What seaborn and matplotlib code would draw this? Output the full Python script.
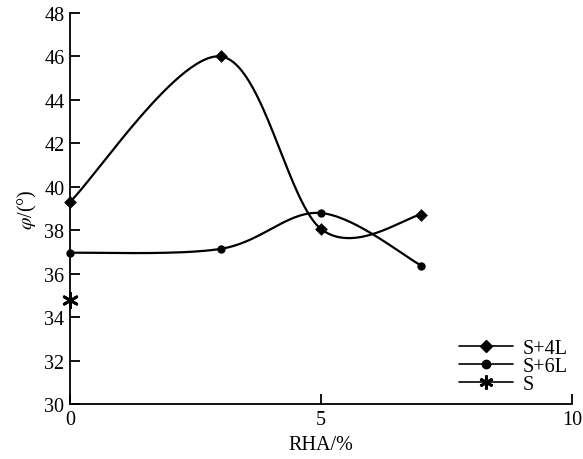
import numpy as np
import pandas as pd
import matplotlib
matplotlib.use("Agg")
import matplotlib.pyplot as plt
from matplotlib.lines import Line2D
import seaborn as sns

# ---- data ----
rha = [0, 3, 5, 7]
phi_s4l = [39.3, 46.0, 38.06, 38.72]
phi_s6l = [36.96, 37.14, 38.79, 36.37]
rha_s = [0]
phi_s = [34.8]
series_names = ["S+4L", "S+6L", "S"]
x_ticks = [0, 5, 10]
y_ticks = [30, 32, 34, 36, 38, 40, 42, 44, 46, 48]


def smooth(xs, ys, n=60):
    """Parametric Catmull-Rom spline through the data points (smoothed line)."""
    P = np.column_stack([xs, ys]).astype(float)
    P = np.vstack([P[0], P, P[-1]])
    out = []
    t = np.linspace(0, 1, n)[:, None]
    for i in range(1, len(P) - 2):
        p0, p1, p2, p3 = P[i - 1], P[i], P[i + 1], P[i + 2]
        seg = 0.5 * ((2 * p1) + (-p0 + p2) * t
                     + (2 * p0 - 5 * p1 + 4 * p2 - p3) * t ** 2
                     + (-p0 + 3 * p1 - 3 * p2 + p3) * t ** 3)
        out.append(seg if i == 1 else seg[1:])
    arr = np.vstack(out)
    return arr[:, 0], arr[:, 1]


sns.set_style("ticks")
plt.rcParams["font.family"] = ["Liberation Serif", "DejaVu Serif"]
plt.rcParams["mathtext.fontset"] = "stix"
for k in ["text.color", "axes.labelcolor", "xtick.color", "ytick.color", "axes.edgecolor"]:
    plt.rcParams[k] = "black"

fig = plt.figure(figsize=(5.83, 4.6), dpi=100)
ax = fig.add_axes([0.120, 0.1196, 0.861, 0.85])

for xs, ys, mk, ms in [(rha, phi_s4l, "D", 6.5), (rha, phi_s6l, "o", 6)]:
    sx, sy = smooth(xs, ys)
    df = pd.DataFrame({"x": sx, "y": sy})
    sns.lineplot(data=df, x="x", y="y", ax=ax, color="black", lw=1.6,
                 sort=False, estimator=None)
    dp = pd.DataFrame({"x": xs, "y": ys})
    sns.scatterplot(data=dp, x="x", y="y", ax=ax, color="black", marker=mk,
                    s=ms ** 2, edgecolor="black", linewidth=0, zorder=5, clip_on=False)

dps = pd.DataFrame({"x": rha_s, "y": phi_s})
sns.scatterplot(data=dps, x="x", y="y", ax=ax, color="black", marker=(6, 2, 0),
                s=110, linewidth=2, edgecolor="black", zorder=5, clip_on=False)

ax.set_xlim(0, 10)
ax.set_ylim(30, 48)
ax.set_xticks(x_ticks)
ax.set_yticks(y_ticks)
ax.tick_params(direction="in", length=7, width=1.3, labelsize=14.5, pad=4,
               colors="black")
for s in ["left", "bottom"]:
    ax.spines[s].set_linewidth(1.3)
    ax.spines[s].set_color("black")
sns.despine(ax=ax)

ax.set_xlabel("RHA/%", fontsize=14.5, labelpad=5)
ax.set_ylabel(r"$\varphi$/(°)", fontsize=14.5, labelpad=4)

handles = [
    Line2D([], [], color="black", lw=1.2, marker="D", markersize=6.5),
    Line2D([], [], color="black", lw=1.2, marker="o", markersize=6),
    Line2D([], [], color="black", lw=1.2, marker=(6, 2, 0), markersize=10, markeredgewidth=2),
]
ax.legend(handles, series_names, loc="lower right", bbox_to_anchor=(1.015, -0.005),
          frameon=False, fontsize=14.5, handlelength=2.7, handletextpad=0.45,
          labelspacing=-0.05, borderaxespad=0.2)

fig.savefig("out.png", dpi=100)
